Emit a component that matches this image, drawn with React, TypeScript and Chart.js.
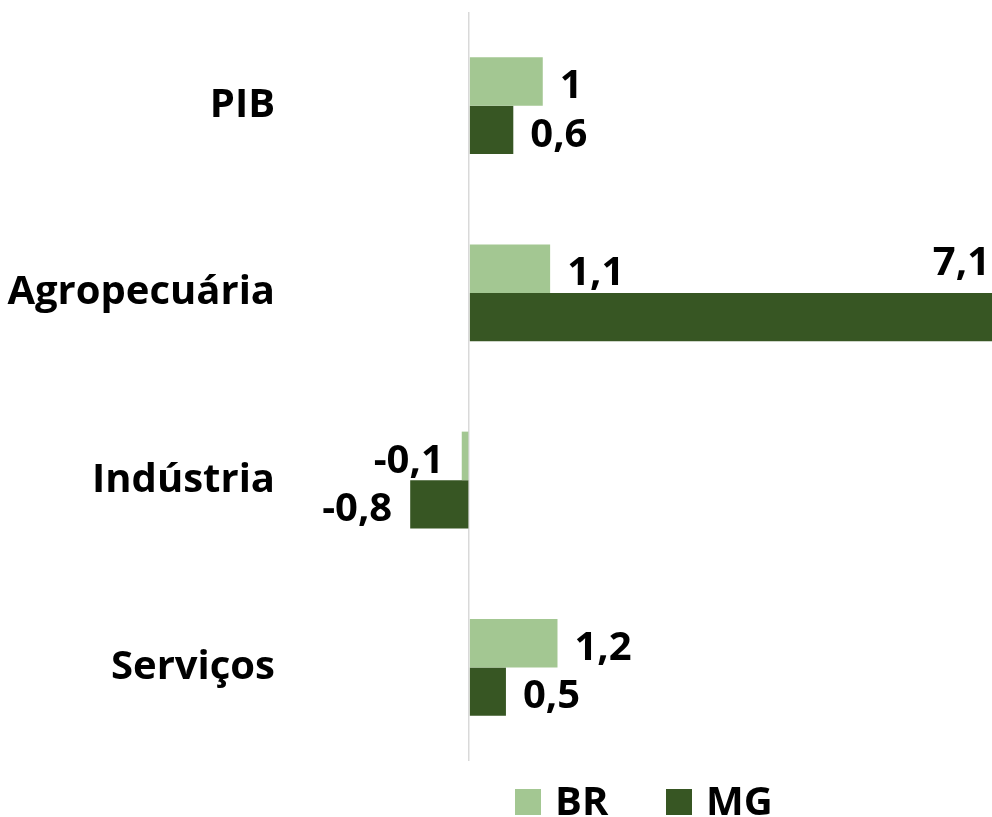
import React, { useEffect, useRef } from "react";
import { Chart, registerables } from "chart.js";

Chart.register(...registerables);

const categories = ["PIB", "Agropecuária", "Indústria", "Serviços"];
const brValues = [1, 1.1, -0.1, 1.2];
const mgValues = [0.6, 7.1, -0.8, 0.5];
const seriesNames = ["BR", "MG"];
const colors = ["#a3c792", "#375623"];

const FONT = "'Open Sans'";
const FS = 40;
const CAP = 0.714;

const labelsPlugin = {
  id: "valueLabels",
  afterDatasetsDraw(chart: any) {
    const ctx = chart.ctx;
    const area = chart.chartArea;
    ctx.save();
    ctx.font = `bold ${FS}px ${FONT}`;
    ctx.fillStyle = "#000";
    ctx.textBaseline = "alphabetic";
    const cap = FS * CAP;
    chart.data.datasets.forEach((ds: any, di: number) => {
      const meta = chart.getDatasetMeta(di);
      meta.data.forEach((el: any, i: number) => {
        const v = ds.data[i];
        const text = String(v).replace(".", ",");
        const w = ctx.measureText(text).width;
        const h = el.height;
        const y = el.y + cap / 2 + 2.5;
        if (v >= 0) {
          const x = el.x + 17;
          if (x + w > area.right) {
            ctx.textAlign = "right";
            ctx.fillText(text, el.x - 2, el.y - h / 2 - 32 + cap / 2);
          } else {
            ctx.textAlign = "left";
            ctx.fillText(text, x, y);
          }
        } else {
          ctx.textAlign = "right";
          ctx.fillText(text, el.x - 18, y);
        }
      });
    });
    ctx.restore();
  },
};

const legendPlugin = {
  id: "customLegend",
  afterDraw(chart: any) {
    const ctx = chart.ctx;
    ctx.save();
    ctx.font = `bold ${FS}px ${FONT}`;
    ctx.textBaseline = "alphabetic";
    ctx.textAlign = "left";
    const xs = [515, 666];
    chart.data.datasets.forEach((ds: any, i: number) => {
      ctx.fillStyle = ds.backgroundColor;
      ctx.fillRect(xs[i], 789, 26, 26);
      ctx.fillStyle = "#000";
      ctx.fillText(ds.label, xs[i] + 40, 815);
    });
    ctx.restore();
  },
};

export default function App() {
  const ref = useRef<HTMLCanvasElement | null>(null);
  useEffect(() => {
    if (!ref.current) return;
    const chart = new Chart(ref.current, {
      type: "bar",
      data: {
        labels: categories,
        datasets: [
          { label: seriesNames[0], data: brValues, backgroundColor: colors[0], categoryPercentage: 0.518, barPercentage: 1 },
          { label: seriesNames[1], data: mgValues, backgroundColor: colors[1], categoryPercentage: 0.518, barPercentage: 1 },
        ],
      },
      options: {
        indexAxis: "y",
        responsive: false,
        animation: false,
        layout: { padding: { top: 0, bottom: 56, left: 0, right: 0 } },
        plugins: {
          legend: { display: false },
          tooltip: { enabled: false },
        },
        scales: {
          x: {
            min: -2.5,
            max: 7.1,
            afterBuildTicks: (scale: any) => {
              scale.ticks = [{ value: 0 }];
            },
            ticks: { display: false },
            border: { display: false },
            grid: { color: "#d9d9d9", lineWidth: 1.5, drawTicks: false },
          },
          y: {
            afterFit: (scale: any) => {
              scale.width = 285;
            },
            ticks: {
              padding: 10,
              color: "#000",
              font: { family: FONT, size: FS, weight: "bold", lineHeight: 0.1 },
            },
            border: { display: false },
            grid: { display: false, drawTicks: false },
          },
        },
      },
      plugins: [labelsPlugin, legendPlugin],
    } as any);
    return () => chart.destroy();
  }, []);
  return (
    <canvas
      ref={ref}
      width={992}
      height={817}
      style={{ position: "absolute", left: 0, top: 0, display: "block", background: "#fff" }}
    />
  );
}
